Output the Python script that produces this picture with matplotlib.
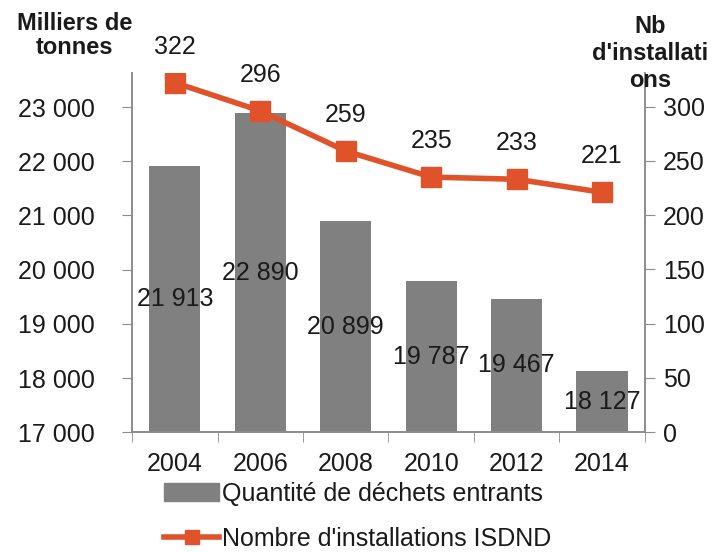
import numpy as np
import matplotlib.pyplot as plt
from matplotlib.lines import Line2D
from matplotlib.patches import Patch

plt.rcParams['font.family'] = ['Liberation Sans', 'DejaVu Sans']

years = ['2004', '2006', '2008', '2010', '2012', '2014']
dechets = [21913, 22890, 20899, 19787, 19467, 18127]
dechets_labels = ['21 913', '22 890', '20 899', '19 787', '19 467', '18 127']
installations = [322, 296, 259, 235, 233, 221]

left_ticks = [17000, 18000, 19000, 20000, 21000, 22000, 23000]
left_tick_labels = ['17 000', '18 000', '19 000', '20 000', '21 000', '22 000', '23 000']
right_ticks = [0, 50, 100, 150, 200, 250, 300]

bar_color = '#808080'
line_color = '#E0522A'
txt = '#1a1a1a'
axis_gray = '#8c8c8c'
fs = 18

fig = plt.figure(figsize=(7.18, 5.52), dpi=100)
ax = fig.add_axes([0.184, 0.217, 0.714, 0.651])
x = np.arange(len(years))

base = 17000
ax.bar(x, np.array(dechets) - base, bottom=base, width=0.6, color=bar_color, zorder=2)
ax.set_ylim(17000, 23630)
ax.set_xlim(-0.5, len(years) - 0.5)
for xi, v, lab in zip(x, dechets, dechets_labels):
    ax.text(xi, (v + base) / 2, lab, ha='center', va='center', fontsize=fs, color=txt, zorder=5)

ax.set_yticks(left_ticks)
ax.set_yticklabels(left_tick_labels)
ax.set_xticks(x)
ax.set_xticklabels(years)
ax.set_xticks(np.arange(-0.5, len(years)), minor=True)
ax.tick_params(axis='x', which='major', length=0, labelsize=fs, colors=txt, pad=14)
ax.tick_params(axis='x', which='minor', length=7, direction='out', color=axis_gray)
ax.tick_params(axis='y', length=7, labelsize=fs, colors=txt, color=axis_gray, pad=20)

ax2 = ax.twinx()
ax2.plot(x, installations, color=line_color, lw=4, marker='s', markersize=15, zorder=3)
ax2.set_ylim(0, 331)
ax2.set_yticks(right_ticks)
ax2.tick_params(axis='y', length=7, labelsize=fs, colors=txt, color=axis_gray, pad=6)
for xi, v in zip(x, installations):
    ax2.annotate(str(v), (xi, v), xytext=(0, 26), textcoords='offset points',
                 ha='center', va='center', fontsize=fs, color=txt)

for a in (ax, ax2):
    a.spines['top'].set_visible(False)
    for s in ('left', 'right', 'bottom'):
        a.spines[s].set_color(axis_gray)
        a.spines[s].set_linewidth(1.2)

fig.text(0.104, 0.935, 'Milliers de\ntonnes', ha='center', va='center',
         fontsize=17, fontweight='bold', color=txt, linespacing=1.05)
fig.text(0.905, 0.903, "Nb\nd'installati\nons", ha='center', va='center',
         fontsize=17, fontweight='bold', color=txt, linespacing=1.2)

handles = [Patch(color=bar_color),
           Line2D([0], [0], color=line_color, lw=4, marker='s', markersize=10)]
fig.legend(handles, ['Quantité de déchets entrants', "Nombre d'installations ISDND"],
           loc='upper left', bbox_to_anchor=(0.215, 0.145), frameon=False,
           fontsize=fs, handlelength=2.2, handletextpad=0.1, labelspacing=0.85,
           borderaxespad=0, labelcolor=txt)

fig.savefig('out.png', dpi=100)
